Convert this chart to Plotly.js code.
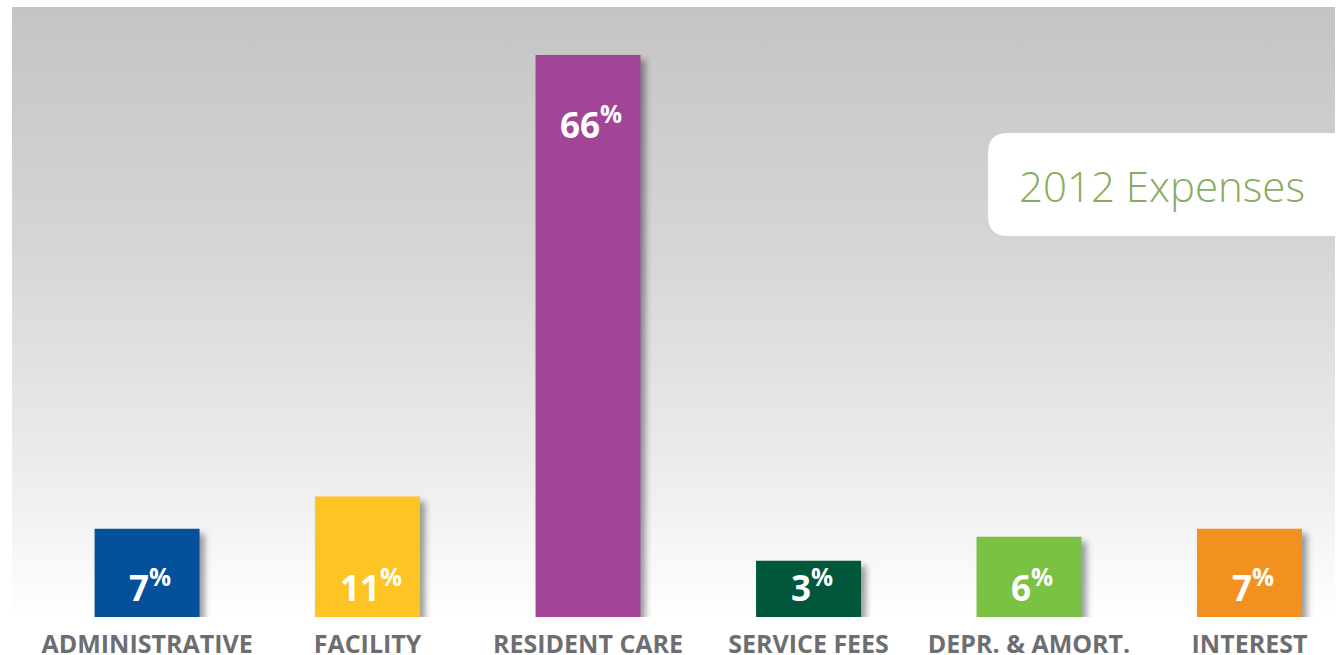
<!DOCTYPE html>
<html>
<head>
<meta charset="utf-8">
<script src="https://cdn.plot.ly/plotly-3.0.1.min.js"></script>
<style>
  html, body { margin: 0; padding: 0; background: #ffffff; }
  #wrap { position: relative; width: 1341px; height: 655px; overflow: hidden; }
  #bg { position: absolute; left: 12px; top: 7px; width: 1323px; height: 612px;
        background: linear-gradient(to bottom, #c4c4c4 0%, #d6d6d6 40%, #ececec 75%, #ffffff 100%); }
  #chart { position: absolute; left: 0; top: 0; width: 1341px; height: 655px; }
  .barlayer path { filter: drop-shadow(5px 5px 3px rgba(0,0,0,0.38)); }
</style>
</head>
<body>
<div id="wrap"><div id="bg"></div><div id="chart"></div></div>
<script>
// ---- data ----
const categories = ["ADMINISTRATIVE", "FACILITY", "RESIDENT CARE", "SERVICE FEES", "DEPR. & AMORT.", "INTEREST"];
const percents = [7, 11, 66, 3, 6, 7];
const barColors = ["#04509b", "#fdc424", "#a24596", "#01573b", "#7bc143", "#f39120"];
const chartTitle = "2012 Expenses";

// ---- layout constants ----
const W = 1341, H = 655;
const mT = 0, mB = 38;
const plotH = H - mT - mB;           // 617
const floor = -4;                     // visual floor under the bars
const pxPerUnit = (plotH - 55) / (Math.max(...percents) - floor);
const yTop = floor + plotH / pxPerUnit;

const bars = {
  type: 'bar',
  x: categories,
  y: percents.map(v => v - floor),
  base: floor,
  width: 0.476,
  marker: { color: barColors, line: { width: 0 } },
  hoverinfo: 'skip',
  textposition: 'none'
};

const maxV = Math.max(...percents);
const valueAnnotations = categories.map((c, i) => {
  const top = percents[i] === maxV;
  return {
    x: c, xref: 'x', yref: 'y',
    y: top ? percents[i] : floor,
    yanchor: top ? 'top' : 'bottom',
    yshift: top ? -40 : 4,
    xshift: 3,
    text: '<b>' + percents[i] + '</b><sup><b>%</b></sup>',
    showarrow: false,
    font: { family: 'Open Sans, Noto Sans, sans-serif', size: 35, color: '#ffffff' }
  };
});

const x0 = 988 / W, rx = 20 / W;
const yt = (plotH - 133) / plotH, yb = (plotH - 236) / plotH, ry = 20 / plotH;
const boxPath = `M ${x0 + rx} ${yt} L 1.01 ${yt} L 1.01 ${yb} L ${x0 + rx} ${yb} ` +
  `Q ${x0} ${yb} ${x0} ${yb + ry} L ${x0} ${yt - ry} Q ${x0} ${yt} ${x0 + rx} ${yt} Z`;

const layout = {
  width: W, height: H,
  margin: { l: 0, r: 0, t: mT, b: mB, pad: 0 },
  paper_bgcolor: 'rgba(0,0,0,0)',
  plot_bgcolor: 'rgba(0,0,0,0)',
  showlegend: false,
  xaxis: {
    type: 'category',
    range: [-0.667, 5.415],
    showgrid: false, zeroline: false, showline: false,
    ticks: '', ticklabelstandoff: 10,
    tickfont: { family: 'Open Sans, Noto Sans, sans-serif', size: 25, color: '#6d6e71', weight: 'bold' },
    fixedrange: true
  },
  yaxis: {
    range: [floor, yTop],
    visible: false, showgrid: false, zeroline: false, fixedrange: true
  },
  shapes: [{
    type: 'path', xref: 'paper', yref: 'paper', path: boxPath,
    fillcolor: '#ffffff', line: { width: 0 }, layer: 'above'
  }],
  annotations: valueAnnotations.concat([{
    xref: 'paper', yref: 'paper',
    x: 1017 / W, xanchor: 'left',
    y: (plotH - 186) / plotH, yanchor: 'middle',
    text: chartTitle, showarrow: false,
    font: { family: 'Open Sans, sans-serif', size: 42, color: '#8aac60', weight: 300 }
  }])
};

Plotly.newPlot('chart', [bars], layout, { displayModeBar: false, staticPlot: true });
</script>
</body>
</html>
